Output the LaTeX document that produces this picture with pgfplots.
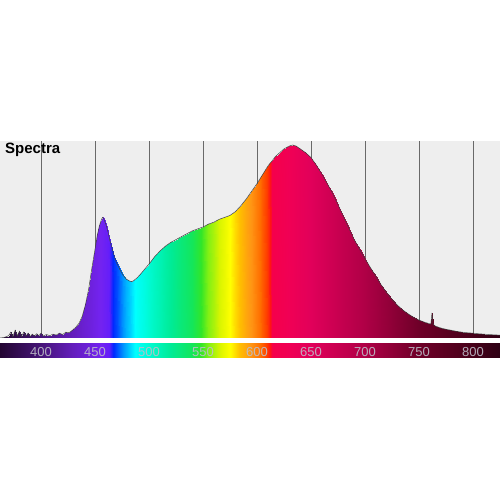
\documentclass[border=0pt]{standalone}
\usepackage{fontspec}
\setmainfont{Liberation Sans}
\usepackage{pgfplots}
\usepackage{pgfplotstable}
\pgfplotsset{compat=1.18}
\definecolor{bggray}{RGB}{238,238,238}
\definecolor{gridgray}{RGB}{105,105,105}
\definecolor{lblgray}{RGB}{190,190,200}

\pgfplotstableread{
x y
362 0.000
366 0.003
370 0.012
372 0.030
374 0.006
376 0.040
378 0.012
380 0.035
382 0.008
384 0.030
386 0.010
388 0.025
390 0.008
392 0.020
394 0.010
396 0.022
398 0.012
400 0.025
402 0.010
405 0.018
408 0.012
411 0.020
414 0.015
417 0.025
420 0.018
423 0.030
426 0.028
429 0.040
432 0.055
435 0.075
438 0.110
441 0.170
444 0.250
447 0.360
450 0.460
452 0.530
454 0.580
456 0.615
457 0.625
458 0.620
460 0.590
462 0.550
464 0.500
466 0.460
468 0.420
470 0.390
473 0.355
476 0.325
479 0.305
482 0.295
484 0.292
486 0.298
489 0.312
492 0.330
495 0.350
498 0.370
501 0.390
505 0.420
510 0.450
515 0.475
520 0.495
525 0.510
530 0.525
535 0.540
540 0.555
545 0.565
550 0.575
555 0.590
560 0.600
565 0.615
570 0.625
575 0.635
580 0.655
585 0.685
590 0.720
595 0.760
600 0.800
605 0.845
610 0.890
612 0.905
614 0.918
617 0.940
620 0.955
625 0.980
630 0.995
633 1.000
636 0.995
640 0.980
645 0.960
650 0.935
655 0.895
660 0.850
665 0.800
670 0.750
675 0.690
680 0.630
685 0.570
690 0.510
695 0.460
700 0.410
705 0.365
710 0.320
715 0.275
720 0.235
725 0.200
730 0.170
735 0.145
740 0.125
745 0.107
750 0.093
755 0.082
759 0.075
761 0.072
762 0.130
763 0.072
765 0.062
770 0.052
775 0.045
780 0.040
785 0.034
790 0.030
795 0.027
800 0.025
805 0.022
810 0.020
815 0.018
820 0.016
825 0.015
}\spec

\pgfplotstableread{
x y
362 0
366 0
370 0
372 0
374 0
376 0
378 0
380 0
382 0
384 0
386 0
388 0
390 0
392 0
394 0
396 0
398 0
400 0
402 0
405 0
408 0
411 0
414 0
417 0
420 0
423 0
426 0
429 0
432 0
435 0
438 0
441 0
444 0
447 0
450 0
452 0
454 0
456 0
457 0
458 0
460 0
462 0
464 0
466 0
468 0
470 0
473 0
476 0
479 0
482 0
484 0
486 0
489 0
492 0
495 0
498 0
501 0
505 0
510 0
515 0
520 0
525 0
530 0
535 0
540 0
545 0
550 0
555 0
560 0
565 0
570 0
575 0
580 0
585 0
590 0
595 0
600 0
605 0
610 0
612 0
614 0
617 0
620 0
625 0
630 0
633 0
636 0
640 0
645 0
650 0
655 0
660 0
665 0
670 0
675 0
680 0
685 0
690 0
695 0
700 0
705 0
710 0
715 0
720 0
725 0
730 0
735 0
740 0
745 0
750 0
755 0
759 0
761 0
762 0
763 0
765 0
770 0
775 0
780 0
785 0
790 0
795 0
800 0
805 0
810 0
815 0
820 0
825 0
}\mesh
\pgfplotstablevertcat{\mesh}{\spec}

\begin{document}
\begin{tikzpicture}
\path[use as bounding box] (0,-162pt) rectangle (500pt,338pt);
\begin{axis}[
  at={(0,0)}, anchor=south west,
  scale only axis, width=500pt, height=197pt,
  xmin=362, xmax=825, ymin=0, ymax=1.0207,
  axis background/.style={fill=bggray},
  axis line style={draw=none},
  xtick={400,450,...,800}, xticklabels={}, ytick=\empty,
  major tick length=0pt,
  xmajorgrids, grid style={draw=gridgray, line width=0.9pt},
  colormap={spec}{
    rgb255(0pt)=(35,5,50)
    rgb255(38pt)=(70,20,120)
    rgb255(68pt)=(100,30,190)
    rgb255(93pt)=(115,35,240)
    rgb255(101pt)=(100,30,250)
    rgb255(105pt)=(0,40,255)
    rgb255(114pt)=(0,150,255)
    rgb255(125pt)=(0,255,255)
    rgb255(138pt)=(0,250,210)
    rgb255(158pt)=(0,235,150)
    rgb255(178pt)=(20,230,90)
    rgb255(186pt)=(50,230,40)
    rgb255(193pt)=(130,240,20)
    rgb255(204pt)=(220,245,0)
    rgb255(213pt)=(255,255,0)
    rgb255(222pt)=(255,190,0)
    rgb255(232pt)=(255,150,20)
    rgb255(241pt)=(255,110,0)
    rgb255(247pt)=(255,60,0)
    rgb255(250pt)=(255,20,20)
    rgb255(252pt)=(245,0,75)
    rgb255(268pt)=(240,0,85)
    rgb255(288pt)=(225,0,90)
    rgb255(338pt)=(175,0,70)
    rgb255(388pt)=(110,0,40)
    rgb255(438pt)=(70,0,25)
    rgb255(463pt)=(45,0,20)
  },
  point meta min=362, point meta max=825,
  colorbar horizontal,
  colorbar style={
    at={(parent axis.south west)}, anchor=north west, yshift=8pt,
    scale only axis, width=500pt, height=19pt,
    axis line style={draw=none},
    xtick={400,450,...,800}, ytick=\empty,
    xtick pos=upper, xticklabel pos=lower,
    tick align=inside, major tick length=3pt,
    xtick style={draw=white, line width=1.2pt},
    /pgf/number format/assume math mode=true,
    xticklabel style={anchor=south, yshift=1pt, inner sep=0pt, text=lblgray, text opacity=0.9,
      font=\fontsize{13}{13}\selectfont},
  },
]
\addplot[surf, shader=interp, mesh/rows=2, point meta=x] table[x=x, y=y] {\mesh};
\addplot[draw=black!75, line width=0.5pt] table[x=x, y=y] {\spec};
\node[anchor=base west, inner sep=0pt, font=\bfseries\fontsize{15}{15}\selectfont]
  at (rel axis cs:0,0) [xshift=5pt, yshift=184pt] {Spectra};
\end{axis}
\end{tikzpicture}
\end{document}
